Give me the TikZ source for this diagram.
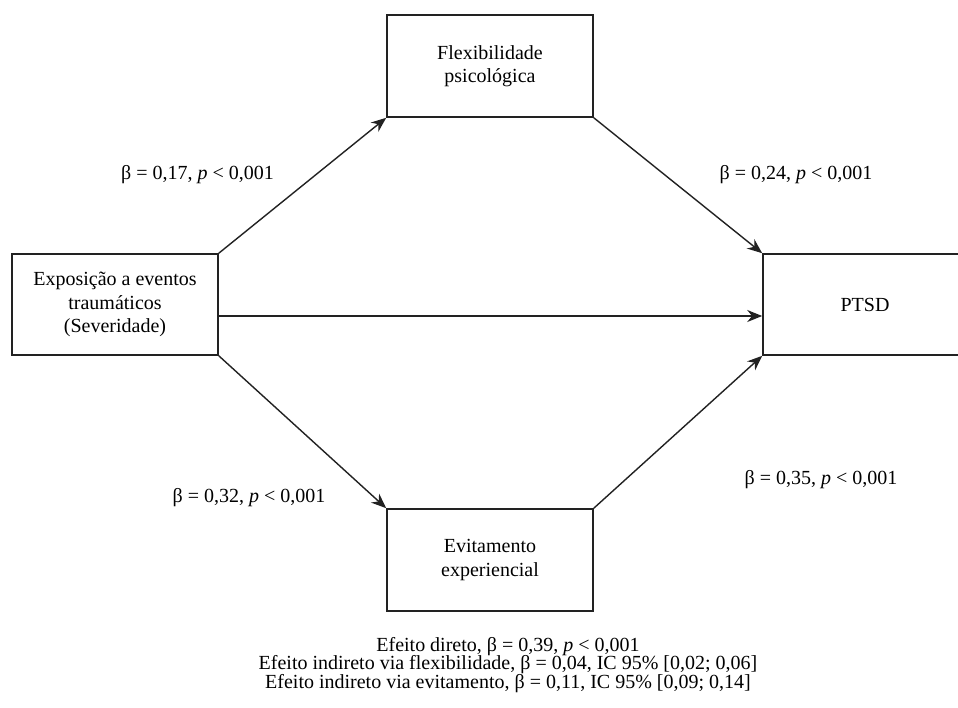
\documentclass[tikz,border=0pt]{standalone}
\usepackage{fontspec}
\setmainfont{Liberation Serif}
\usetikzlibrary{arrows.meta}
\definecolor{linecol}{HTML}{222222}
\begin{document}
\begin{tikzpicture}[x=1pt,y=-1pt,
  box/.style={draw=linecol, line width=1.6pt, inner sep=0pt, align=center,
    minimum width=206pt, minimum height=101pt, font=\fontsize{20}{23.5}\selectfont},
  arr/.style={draw=linecol, line width=1.4pt, -{Stealth[length=15pt,width=12pt]}},
  lab/.style={font=\fontsize{20}{22}\selectfont, inner sep=0pt},
  note/.style={font=\fontsize{20}{18.5}\selectfont, inner sep=0pt, align=center}]
\useasboundingbox (0,0) rectangle (958,707);
\fill[white] (0,0) rectangle (958,707);
\node[box] (expo) at (115,304.5) {Exposição a eventos\\traumáticos\\(Severidade)};
\node[box, minimum height=102pt] (flex) at (490,66) {Flexibilidade\\psicológica};
\node[box, minimum height=102pt] (evit) at (490,560) {Evitamento\\experiencial};
\node[box, minimum width=204pt] (ptsd) at (865,304.5) {PTSD};
\draw[arr] (expo.north east) -- (flex.south west);
\draw[arr] (flex.south east) -- (ptsd.north west);
\draw[arr] ([yshift=-11.5pt]expo.east) -- ([yshift=-11.5pt]ptsd.west);
\draw[arr] (expo.south east) -- (evit.north west);
\draw[arr] (evit.north east) -- (ptsd.south west);
\node[lab] (l1) at (197.5,175) {β = 0,17, \textit{p} < 0,001};
\node[lab] (l2) at (796,175) {β = 0,24, \textit{p} < 0,001};
\node[lab] (l3) at (249,498) {β = 0,32, \textit{p} < 0,001};
\node[lab] (l4) at (821,480) {β = 0,35, \textit{p} < 0,001};
\node[note] (notes) at (508,665) {Efeito direto, β = 0,39, \textit{p} < 0,001\\
Efeito indireto via flexibilidade, β = 0,04, IC 95\% [0,02; 0,06]\\
Efeito indireto via evitamento, β = 0,11, IC 95\% [0,09; 0,14]};
\end{tikzpicture}
\end{document}
